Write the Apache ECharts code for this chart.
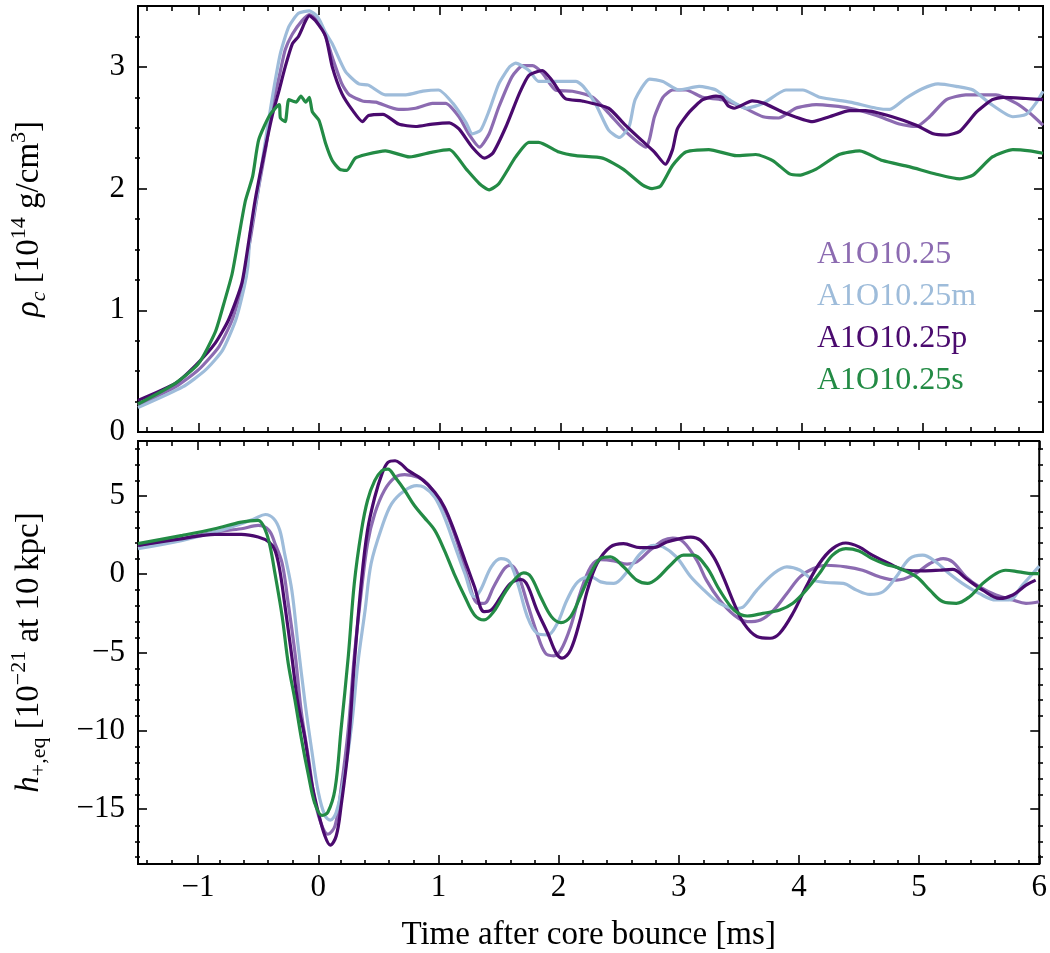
<!DOCTYPE html>
<html><head><meta charset="utf-8">
<script src="https://cdn.jsdelivr.net/npm/echarts@6/dist/echarts.min.js"></script>
<style>html,body{margin:0;padding:0;background:#fff}#c{width:1050px;height:953px}</style>
</head><body><div id="c"></div><script>
// ---------------- data ----------------
const seriesNames = ['A1O10.25', 'A1O10.25m', 'A1O10.25p', 'A1O10.25s'];
const seriesColors = ['#8c6bb1', '#9ebcda', '#4a0a6e', '#238b45'];

const xMajorTicks = [-1, 0, 1, 2, 3, 4, 5, 6];
const xMinorTicks = [-1.4,-1.2,-0.8,-0.6,-0.4,-0.2,0.2,0.4,0.6,0.8,1.2,1.4,1.6,1.8,2.2,2.4,2.6,2.8,3.2,3.4,3.6,3.8,4.2,4.4,4.6,4.8,5.2,5.4,5.6,5.8];
const rhoMajorTicks = [0, 1, 2, 3];
const rhoMinorTicks = [0.25,0.5,0.75,1.25,1.5,1.75,2.25,2.5,2.75,3.25];
const hMajorTicks = [-15, -10, -5, 0, 5];
const hMinorTicks = [-18,-17,-16,-14,-13,-12,-11,-9,-8,-7,-6,-4,-3,-2,-1,1,2,3,4,6,7,8];

// central density rho_c [1e14 g/cm^3]
const rhoA = [[-1.5,0.22],[-1.19,0.37],[-1.0,0.51],[-0.83,0.70],[-0.72,0.92],[-0.64,1.19],[-0.57,1.58],[-0.50,2.01],[-0.44,2.34],[-0.39,2.67],[-0.33,2.92],[-0.28,3.14],[-0.22,3.27],[-0.14,3.38],[-0.08,3.43],[-0.01,3.38],[0.055,3.25],[0.11,3.08],[0.19,2.86],[0.25,2.77],[0.36,2.72],[0.47,2.71],[0.66,2.65],[0.80,2.66],[0.94,2.70],[1.05,2.70],[1.16,2.59],[1.24,2.45],[1.33,2.34],[1.41,2.45],[1.49,2.67],[1.60,2.92],[1.69,3.01],[1.77,3.01],[1.85,2.95],[1.96,2.81],[2.10,2.80],[2.27,2.75],[2.40,2.62],[2.54,2.47],[2.71,2.34],[2.74,2.41],[2.78,2.59],[2.85,2.75],[2.93,2.81],[3.04,2.81],[3.18,2.75],[3.34,2.73],[3.51,2.67],[3.68,2.59],[3.81,2.58],[3.95,2.66],[4.12,2.69],[4.40,2.66],[4.62,2.60],[4.81,2.53],[4.95,2.51],[5.06,2.59],[5.20,2.73],[5.36,2.77],[5.61,2.77],[5.78,2.70],[5.89,2.62],[6.0,2.52]];
const rhoM = [[-1.5,0.20],[-1.13,0.37],[-0.94,0.51],[-0.80,0.67],[-0.69,0.92],[-0.62,1.19],[-0.59,1.36],[-0.57,1.63],[-0.51,1.96],[-0.46,2.29],[-0.39,2.73],[-0.32,3.11],[-0.25,3.33],[-0.17,3.44],[-0.08,3.46],[-0.01,3.41],[0.055,3.28],[0.11,3.19],[0.22,2.96],[0.33,2.86],[0.41,2.85],[0.55,2.77],[0.72,2.77],[0.86,2.80],[0.99,2.81],[1.11,2.70],[1.22,2.54],[1.27,2.45],[1.34,2.48],[1.41,2.64],[1.49,2.86],[1.58,3.0],[1.63,3.03],[1.74,2.97],[1.82,2.88],[1.96,2.88],[2.13,2.88],[2.19,2.84],[2.29,2.70],[2.40,2.48],[2.49,2.42],[2.57,2.51],[2.62,2.73],[2.74,2.90],[2.85,2.88],[2.98,2.81],[3.15,2.84],[3.29,2.81],[3.40,2.73],[3.54,2.66],[3.68,2.70],[3.87,2.81],[4.01,2.81],[4.15,2.75],[4.40,2.71],[4.62,2.66],[4.73,2.65],[4.86,2.74],[5.0,2.82],[5.13,2.86],[5.28,2.84],[5.42,2.81],[5.56,2.70],[5.75,2.59],[5.86,2.61],[5.94,2.70],[6.0,2.80]];
const rhoP = [[-1.5,0.26],[-1.19,0.40],[-1.02,0.55],[-0.86,0.73],[-0.75,0.92],[-0.64,1.22],[-0.58,1.58],[-0.53,1.90],[-0.46,2.26],[-0.39,2.59],[-0.33,2.81],[-0.28,3.0],[-0.22,3.19],[-0.17,3.25],[-0.11,3.38],[-0.08,3.42],[-0.03,3.38],[0.055,3.25],[0.11,3.0],[0.19,2.78],[0.28,2.64],[0.36,2.55],[0.41,2.60],[0.53,2.61],[0.66,2.53],[0.80,2.51],[0.94,2.53],[1.08,2.54],[1.16,2.49],[1.27,2.34],[1.37,2.25],[1.44,2.29],[1.55,2.51],[1.66,2.78],[1.74,2.93],[1.85,2.97],[1.93,2.89],[2.04,2.74],[2.18,2.72],[2.40,2.66],[2.53,2.53],[2.67,2.40],[2.78,2.30],[2.87,2.20],[2.93,2.32],[2.97,2.49],[3.07,2.63],[3.18,2.73],[3.29,2.76],[3.34,2.75],[3.39,2.68],[3.44,2.66],[3.59,2.72],[3.69,2.70],[3.84,2.63],[4.09,2.55],[4.23,2.59],[4.40,2.64],[4.53,2.64],[4.75,2.59],[4.95,2.52],[5.09,2.45],[5.20,2.44],[5.31,2.47],[5.45,2.63],[5.58,2.73],[5.67,2.75],[5.86,2.74],[6.0,2.73]];
const rhoS = [[-1.5,0.23],[-1.19,0.40],[-1.0,0.56],[-0.86,0.82],[-0.79,1.05],[-0.72,1.30],[-0.66,1.63],[-0.61,1.90],[-0.55,2.10],[-0.50,2.40],[-0.41,2.60],[-0.33,2.69],[-0.32,2.58],[-0.28,2.55],[-0.25,2.73],[-0.19,2.71],[-0.15,2.76],[-0.11,2.71],[-0.08,2.75],[-0.055,2.63],[0,2.56],[0.055,2.37],[0.11,2.23],[0.17,2.16],[0.23,2.15],[0.30,2.25],[0.39,2.28],[0.55,2.31],[0.75,2.26],[0.94,2.30],[1.08,2.32],[1.22,2.16],[1.33,2.04],[1.41,1.99],[1.49,2.04],[1.63,2.26],[1.74,2.38],[1.82,2.38],[1.99,2.30],[2.13,2.27],[2.35,2.25],[2.52,2.16],[2.68,2.03],[2.76,2.0],[2.83,2.02],[2.93,2.19],[3.04,2.30],[3.23,2.32],[3.46,2.27],[3.62,2.28],[3.76,2.23],[3.90,2.12],[3.98,2.11],[4.12,2.16],[4.31,2.28],[4.48,2.31],[4.67,2.23],[4.89,2.18],[5.11,2.12],[5.31,2.08],[5.42,2.11],[5.58,2.26],[5.75,2.32],[5.89,2.31],[6.0,2.29]];

// gravitational-wave strain h_+,eq [1e-21 at 10 kpc]
const hA = [[-1.5,1.74],[-1.13,2.27],[-0.86,2.69],[-0.64,2.90],[-0.50,3.11],[-0.41,2.80],[-0.36,1.95],[-0.30,0.68],[-0.25,-1.86],[-0.19,-5.25],[-0.14,-8.85],[-0.08,-11.8],[-0.03,-14.4],[0.03,-16.05],[0.08,-16.6],[0.14,-16.05],[0.19,-13.7],[0.25,-9.9],[0.30,-5.25],[0.36,-1.02],[0.41,1.95],[0.47,3.85],[0.55,5.34],[0.64,6.18],[0.72,6.35],[0.83,6.18],[0.91,5.76],[0.99,4.91],[1.08,3.64],[1.16,1.95],[1.24,-0.17],[1.33,-1.86],[1.38,-1.86],[1.46,-0.80],[1.55,0.36],[1.60,0.57],[1.66,0.04],[1.74,-1.86],[1.82,-3.77],[1.89,-5.04],[1.96,-5.21],[2.02,-4.83],[2.10,-3.35],[2.18,-1.2],[2.27,0.5],[2.35,0.93],[2.46,0.85],[2.57,0.64],[2.65,0.78],[2.76,1.52],[2.87,2.16],[2.95,2.31],[3.04,2.05],[3.15,0.89],[3.23,-0.38],[3.34,-1.65],[3.46,-2.60],[3.57,-3.03],[3.68,-2.92],[3.79,-2.29],[3.90,-1.23],[4.01,-0.17],[4.12,0.36],[4.23,0.57],[4.39,0.47],[4.53,0.25],[4.67,-0.17],[4.81,-0.38],[4.95,-0.06],[5.09,0.68],[5.20,0.99],[5.28,0.78],[5.39,-0.17],[5.50,-0.80],[5.64,-1.33],[5.78,-1.65],[5.89,-1.86],[6.0,-1.76]];
const hM = [[-1.5,1.63],[-1.13,2.16],[-0.86,2.69],[-0.64,3.22],[-0.53,3.54],[-0.44,3.81],[-0.37,3.54],[-0.32,2.80],[-0.28,1.31],[-0.22,-1.02],[-0.17,-4.40],[-0.11,-8.2],[-0.055,-11.2],[0,-13.9],[0.055,-15.4],[0.10,-15.7],[0.15,-15.2],[0.22,-12.7],[0.28,-9.5],[0.33,-5.68],[0.39,-2.29],[0.44,0.68],[0.53,3.01],[0.61,4.49],[0.72,5.34],[0.82,5.65],[0.88,5.55],[0.97,4.91],[1.05,3.64],[1.13,1.95],[1.22,0.04],[1.30,-1.44],[1.35,-1.02],[1.44,0.47],[1.52,0.99],[1.59,0.78],[1.66,-0.59],[1.74,-2.71],[1.82,-3.77],[1.91,-3.88],[1.99,-3.13],[2.07,-1.65],[2.16,-0.49],[2.27,-0.17],[2.35,-0.49],[2.46,-0.59],[2.57,0.15],[2.68,1.31],[2.79,1.84],[2.87,1.74],[2.98,1.10],[3.10,-0.17],[3.21,-1.02],[3.34,-1.86],[3.48,-2.18],[3.54,-2.07],[3.65,-1.02],[3.79,0.04],[3.90,0.47],[4.01,0.25],[4.12,-0.38],[4.23,-0.53],[4.37,-0.59],[4.48,-1.02],[4.59,-1.29],[4.70,-1.12],[4.81,-0.17],[4.92,0.99],[5.03,1.21],[5.14,0.78],[5.25,0.04],[5.36,-0.59],[5.50,-1.23],[5.64,-1.65],[5.75,-1.65],[5.86,-0.70],[6.0,0.51]];
const hP = [[-1.5,1.84],[-1.13,2.27],[-0.86,2.54],[-0.64,2.54],[-0.50,2.37],[-0.41,2.05],[-0.36,1.52],[-0.32,0.25],[-0.28,-1.86],[-0.22,-5.25],[-0.17,-8.2],[-0.11,-10.5],[-0.055,-13.3],[0,-15.2],[0.055,-16.7],[0.10,-17.3],[0.15,-16.7],[0.19,-14.8],[0.25,-11.0],[0.30,-5.7],[0.36,-0.38],[0.41,2.80],[0.47,4.91],[0.53,6.40],[0.58,7.14],[0.64,7.24],[0.69,7.03],[0.75,6.61],[0.86,6.08],[0.97,5.23],[1.05,4.28],[1.13,2.80],[1.22,0.89],[1.30,-0.80],[1.38,-2.39],[1.44,-2.29],[1.52,-1.44],[1.60,-0.59],[1.69,-0.34],[1.74,-0.70],[1.82,-2.29],[1.91,-3.77],[1.98,-5.04],[2.03,-5.36],[2.10,-4.83],[2.18,-2.9],[2.24,-1.02],[2.32,0.68],[2.43,1.74],[2.54,1.95],[2.68,1.69],[2.79,1.69],[2.90,2.05],[3.01,2.27],[3.10,2.37],[3.18,2.16],[3.29,1.10],[3.37,-0.17],[3.46,-1.86],[3.54,-3.13],[3.65,-3.98],[3.76,-4.09],[3.84,-3.77],[3.95,-2.50],[4.06,-0.80],[4.17,0.68],[4.28,1.63],[4.39,1.99],[4.50,1.74],[4.61,1.21],[4.75,0.68],[4.89,0.25],[5.03,0.21],[5.17,0.25],[5.28,0.30],[5.39,-0.28],[5.53,-1.02],[5.67,-1.55],[5.78,-1.33],[5.89,-0.70],[5.97,-0.38]];
const hS = [[-1.5,1.95],[-1.13,2.48],[-0.86,2.90],[-0.64,3.32],[-0.50,3.43],[-0.44,2.80],[-0.40,1.74],[-0.36,0.04],[-0.30,-2.71],[-0.25,-5.68],[-0.19,-8.2],[-0.14,-10.5],[-0.08,-12.9],[-0.03,-14.6],[0.03,-15.4],[0.08,-15.2],[0.14,-13.7],[0.19,-9.9],[0.25,-5.25],[0.30,-0.59],[0.36,2.80],[0.41,4.70],[0.47,5.97],[0.53,6.61],[0.58,6.71],[0.64,6.18],[0.72,5.34],[0.80,4.38],[0.88,3.64],[0.97,2.80],[1.05,1.52],[1.13,0.04],[1.22,-1.44],[1.30,-2.60],[1.38,-2.92],[1.46,-2.39],[1.55,-1.23],[1.63,-0.38],[1.71,0.08],[1.77,-0.17],[1.85,-1.44],[1.94,-2.71],[2.02,-3.09],[2.10,-2.71],[2.18,-1.44],[2.27,0.1],[2.35,1.0],[2.43,1.10],[2.54,0.47],[2.65,-0.38],[2.74,-0.59],[2.82,-0.28],[2.93,0.57],[3.04,1.21],[3.12,1.21],[3.23,0.47],[3.34,-1.02],[3.46,-2.29],[3.57,-2.67],[3.70,-2.50],[3.84,-2.29],[3.95,-1.86],[4.06,-1.02],[4.17,0.04],[4.28,1.21],[4.39,1.63],[4.50,1.48],[4.61,0.99],[4.72,0.64],[4.84,0.36],[4.98,-0.17],[5.09,-1.02],[5.20,-1.76],[5.31,-1.86],[5.42,-1.44],[5.53,-0.59],[5.64,0.04],[5.72,0.25],[5.83,0.15],[5.94,0.04],[6.0,0.04]];

const rhoData = [rhoA, rhoM, rhoP, rhoS];
const hData = [hA, hM, hP, hS];

// ---------------- chart ----------------
const FONT = '"Liberation Serif", "DejaVu Serif", serif';
const FS = 31;
const NFS = 33;
const minus = v => String(v).replace('-', '\u2212');

const TOP = {left: 135, top: 6, width: 908, height: 426};
const BOT = {left: 135, top: 441, width: 908, height: 424};

const grids = [
  Object.assign({show: true, borderColor: '#000', borderWidth: 2, backgroundColor: 'transparent'}, TOP),
  Object.assign({show: false}, TOP),
  Object.assign({show: true, borderColor: '#000', borderWidth: 2, backgroundColor: 'transparent'}, BOT),
  Object.assign({show: false}, BOT)
];

function tickStyle(vals, len) {
  return {show: true, inside: true, length: len, customValues: vals,
          lineStyle: {color: '#000', width: 1.6}};
}
function xAxis(grid, pos, vals, len, label) {
  const ax = {type: 'value', gridIndex: grid, position: pos, min: -1.5, max: 6,
    axisLine: {show: false, onZero: false}, splitLine: {show: false},
    axisTick: tickStyle(vals, len), axisLabel: {show: false}};
  if (label) {
    ax.axisLabel = {show: true, customValues: xMajorTicks, formatter: minus, margin: 8,
      fontSize: FS, fontFamily: FONT, color: '#000'};
    ax.name = 'Time after core bounce [ms]';
    ax.nameLocation = 'middle';
    ax.nameGap = 55;
    ax.nameTextStyle = {fontSize: NFS, fontFamily: FONT, color: '#000'};
  }
  return ax;
}
function yAxis(grid, pos, min, max, vals, len, labelVals, name) {
  const ax = {type: 'value', gridIndex: grid, position: pos, min: min, max: max,
    axisLine: {show: false, onZero: false}, splitLine: {show: false},
    axisTick: tickStyle(vals, len), axisLabel: {show: false}};
  if (labelVals) {
    ax.axisLabel = {show: true, customValues: labelVals, formatter: minus, margin: 13,
      fontSize: FS, fontFamily: FONT, color: '#000'};
  }
  if (name) {
    ax.name = name;
    ax.nameLocation = 'middle';
    ax.nameGap = 88;
    ax.nameTextStyle = {fontSize: NFS, fontFamily: FONT, color: '#000', lineHeight: 42,
      rich: {
        i: {fontSize: NFS, fontFamily: FONT, fontStyle: 'italic', color: '#000', lineHeight: 42},
        sub: {fontSize: 22, fontFamily: FONT, color: '#000', verticalAlign: 'bottom', lineHeight: 22},
        subi: {fontSize: 22, fontFamily: FONT, fontStyle: 'italic', color: '#000', verticalAlign: 'bottom', lineHeight: 22},
        sup: {fontSize: 22, fontFamily: FONT, color: '#000', verticalAlign: 'top', lineHeight: 20}
      }};
  }
  return ax;
}

const xAxes = [
  xAxis(0, 'bottom', xMajorTicks, 9, false), xAxis(0, 'top', xMajorTicks, 9, false),
  xAxis(1, 'bottom', xMinorTicks, 5, false), xAxis(1, 'top', xMinorTicks, 5, false),
  xAxis(2, 'bottom', xMajorTicks, 9, true),  xAxis(2, 'top', xMajorTicks, 9, false),
  xAxis(3, 'bottom', xMinorTicks, 5, false), xAxis(3, 'top', xMinorTicks, 5, false)
];
const yAxes = [
  yAxis(0, 'left', 0, 3.5, rhoMajorTicks, 9, rhoMajorTicks, '{i|\u03C1}{subi|c} [10{sup|14} g/cm{sup|3}]'),
  yAxis(0, 'right', 0, 3.5, rhoMajorTicks, 9, null, null),
  yAxis(1, 'left', 0, 3.5, rhoMinorTicks, 5, null, null),
  yAxis(1, 'right', 0, 3.5, rhoMinorTicks, 5, null, null),
  yAxis(2, 'left', -18.5, 8.5, hMajorTicks, 9, hMajorTicks, '{i|h}{sub|+,eq} [10{sup|\u221221} at 10\u2009kpc]'),
  yAxis(2, 'right', -18.5, 8.5, hMajorTicks, 9, null, null),
  yAxis(3, 'left', -18.5, 8.5, hMinorTicks, 5, null, null),
  yAxis(3, 'right', -18.5, 8.5, hMinorTicks, 5, null, null)
];

const series = [];
seriesNames.forEach((n, i) => {
  series.push({name: n, type: 'line', xAxisIndex: 0, yAxisIndex: 0, data: rhoData[i],
    showSymbol: false, symbol: 'none', smooth: 0.2, clip: true,
    lineStyle: {color: seriesColors[i], width: 3.2}, itemStyle: {color: seriesColors[i]}});
});
seriesNames.forEach((n, i) => {
  series.push({name: n, type: 'line', xAxisIndex: 4, yAxisIndex: 4, data: hData[i],
    showSymbol: false, symbol: 'none', smooth: 0.35, clip: true,
    lineStyle: {color: seriesColors[i], width: 3.2}, itemStyle: {color: seriesColors[i]}});
});

const chart = echarts.init(document.getElementById('c'), null, {renderer: 'canvas'});
chart.setOption({
  animation: false,
  backgroundColor: '#fff',
  grid: grids,
  xAxis: xAxes,
  yAxis: yAxes,
  legend: {
    orient: 'vertical', left: 812, top: 239, padding: 0, itemGap: 10,
    itemWidth: 0, itemHeight: 0, icon: 'rect', selectedMode: false,
    textStyle: {fontSize: 32, fontFamily: FONT},
    data: seriesNames.map((n, i) => ({name: n, textStyle: {color: seriesColors[i]}}))
  },
  series: series
});
</script></body></html>
